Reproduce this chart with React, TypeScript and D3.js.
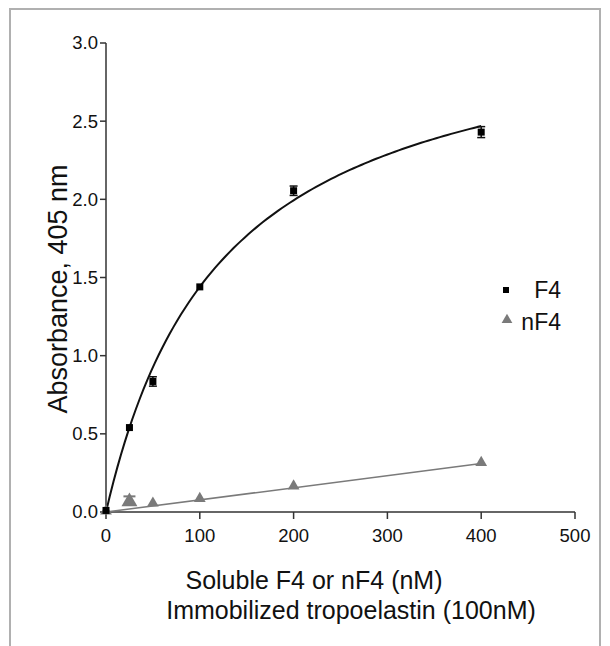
import React from "react";
import * as d3 from "d3";

const concentrations = [0, 25, 50, 100, 200, 400];
const f4Values = [0.01, 0.54, 0.835, 1.44, 2.055, 2.43];
const f4Errors = [0.01, 0.01, 0.03, 0.01, 0.03, 0.035];
const nf4Values = [0.0, 0.06, 0.05, 0.08, 0.16, 0.31];
const nf4Errors = [0.0, 0.04, 0.0, 0.0, 0.0, 0.0];
// one-site binding fit for F4: [Bmax, Kd]
const f4Fit = [3.24, 125];
// linear fit for nF4: [intercept, slope]
const nf4Fit = [0.0, 0.000775];
const xTicks = [0, 100, 200, 300, 400, 500];
const yTicks = [0, 0.5, 1.0, 1.5, 2.0, 2.5, 3.0];
const seriesNames = ["F4", "nF4"];

const FONT = "Liberation Sans, Arial, sans-serif";

export default function App() {
  const x = d3.scaleLinear().domain([0, 500]).range([106, 575]);
  const y = d3.scaleLinear().domain([0, 3]).range([512, 43]);

  const fitX = d3.range(0, 401, 4);
  const f4Curve = d3
    .line<number>()
    .x((d) => x(d))
    .y((d) => y((f4Fit[0] * d) / (f4Fit[1] + d)))(fitX) as string;
  const nf4Line = d3
    .line<number>()
    .x((d) => x(d))
    .y((d) => y(nf4Fit[0] + nf4Fit[1] * d))([0, 400]) as string;

  const tri = d3.symbol().type(d3.symbolTriangle).size(60)() as string;
  const triBig = d3.symbol().type(d3.symbolTriangle).size(110)() as string;
  const triLegend = d3.symbol().type(d3.symbolTriangle).size(50)() as string;
  const axisColor = "#333";
  const gray = "#7a7a7a";

  return (
    <svg
      width={610}
      height={646}
      style={{ position: "absolute", left: 0, top: 0, background: "#fff" }}
      fontFamily={FONT}
    >
      <rect x={10} y={9} width={590} height={660} fill="none" stroke="#b0b0b0" strokeWidth={2} />

      {/* axes */}
      <line x1={x(0)} x2={x(0)} y1={y(0)} y2={y(3)} stroke={axisColor} strokeWidth={1.5} />
      <line x1={x(0)} x2={x(500)} y1={y(0)} y2={y(0)} stroke={axisColor} strokeWidth={1.5} />
      {yTicks.map((t) => (
        <g key={"y" + t}>
          <line x1={x(0) - 6} x2={x(0)} y1={y(t)} y2={y(t)} stroke={axisColor} strokeWidth={1.5} />
          <text x={x(0) - 8} y={y(t)} dy="0.35em" textAnchor="end" fontSize={18.5} fill="#111">
            {t.toFixed(1)}
          </text>
        </g>
      ))}
      {xTicks.map((t) => (
        <g key={"x" + t}>
          <line x1={x(t)} x2={x(t)} y1={y(0)} y2={y(0) + 7} stroke={axisColor} strokeWidth={1.5} />
          <text x={x(t)} y={y(0) + 24} dy="0.35em" textAnchor="middle" fontSize={18.5} fill="#111">
            {t}
          </text>
        </g>
      ))}

      {/* axis titles */}
      <text
        transform={`translate(58, ${289}) rotate(-90)`}
        textAnchor="middle"
        dy="0.35em"
        fontSize={27}
        fill="#111"
      >
        Absorbance, 405 nm
      </text>
      <text x={314} y={580} dy="0.35em" textAnchor="middle" fontSize={25} fill="#111">
        Soluble F4 or nF4 (nM)
      </text>
      <text x={351} y={610} dy="0.35em" textAnchor="middle" fontSize={25} fill="#111">
        Immobilized tropoelastin (100nM)
      </text>

      {/* fit lines */}
      <path d={nf4Line} fill="none" stroke={gray} strokeWidth={1.5} />
      <path d={f4Curve} fill="none" stroke="#111" strokeWidth={2} />

      {/* nF4 points */}
      {concentrations.map((c, i) => (
        <g key={"n" + c}>
          {nf4Errors[i] > 0 && (
            <g stroke={gray} strokeWidth={2}>
              <line x1={x(c)} x2={x(c)} y1={y(nf4Values[i] + nf4Errors[i])} y2={y(nf4Values[i])} />
              <line
                x1={x(c) - 6}
                x2={x(c) + 6}
                y1={y(nf4Values[i] + nf4Errors[i])}
                y2={y(nf4Values[i] + nf4Errors[i])}
              />
            </g>
          )}
          <path
            d={nf4Errors[i] > 0 ? triBig : tri}
            transform={`translate(${x(c)},${y(nf4Values[i]) - 1})`}
            fill={gray}
          />
        </g>
      ))}

      {/* F4 points */}
      {concentrations.map((c, i) => (
        <g key={"f" + c}>
          {f4Errors[i] > 0.015 && (
            <g stroke="#111" strokeWidth={1.5}>
              <line x1={x(c)} x2={x(c)} y1={y(f4Values[i] + f4Errors[i])} y2={y(f4Values[i] - f4Errors[i])} />
              <line x1={x(c) - 4} x2={x(c) + 4} y1={y(f4Values[i] + f4Errors[i])} y2={y(f4Values[i] + f4Errors[i])} />
              <line x1={x(c) - 4} x2={x(c) + 4} y1={y(f4Values[i] - f4Errors[i])} y2={y(f4Values[i] - f4Errors[i])} />
            </g>
          )}
          <rect x={x(c) - 3.5} y={y(f4Values[i]) - 3.5} width={7} height={7} fill="#000" />
        </g>
      ))}

      {/* legend */}
      <rect x={503} y={287} width={6} height={6} fill="#000" />
      <text x={561} y={298} textAnchor="end" fontSize={23} fill="#111">
        {seriesNames[0]}
      </text>
      <path d={triLegend} transform="translate(507,320)" fill={gray} />
      <text x={561} y={330} textAnchor="end" fontSize={23} fill="#111">
        {seriesNames[1]}
      </text>
    </svg>
  );
}
